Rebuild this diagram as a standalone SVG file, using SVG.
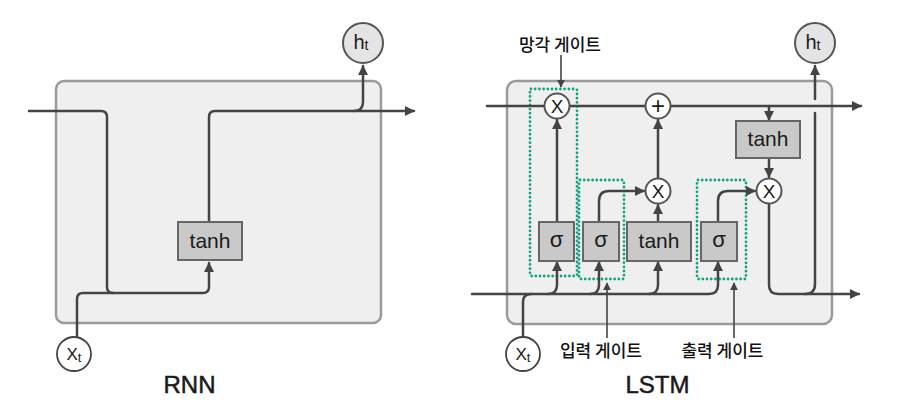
<svg xmlns="http://www.w3.org/2000/svg" width="898" height="408" viewBox="0 0 898 408">
<defs>
<marker id="ah" viewBox="0 0 10 10" refX="9" refY="5" markerWidth="4" markerHeight="4" orient="auto" markerUnits="strokeWidth">
<path d="M0,0 L10,5 L0,10 z" fill="#444"/>
</marker>
<marker id="ahs" viewBox="0 0 10 10" refX="9" refY="5" markerWidth="5" markerHeight="5" orient="auto" markerUnits="strokeWidth">
<path d="M0,0 L10,5 L0,10 z" fill="#444"/>
</marker>
<style>
.cell{fill:#efefef;stroke:#9a9a9a;stroke-width:2.5}
.fn{fill:#c9c9c9;stroke:#666;stroke-width:2}
.op{fill:#fff;stroke:#555;stroke-width:2}
.io{fill:#fff;stroke:#444;stroke-width:1.8}
.ht{fill:#e4e4e4;stroke:#555;stroke-width:2}
.ln{fill:none;stroke:#444;stroke-width:2.5;stroke-linecap:round;stroke-linejoin:round}
.la{fill:none;stroke:#444;stroke-width:1.6}
.gate{fill:none;stroke:#13a383;stroke-width:2.8;stroke-dasharray:0 4.2;stroke-linecap:round}
.t{font-family:"Liberation Sans","Noto Sans",sans-serif;fill:#1a1a1a;text-anchor:middle}
.k{font-family:"Noto Sans CJK KR","Noto Sans",sans-serif;fill:#111;text-anchor:middle;font-size:17px;font-weight:500}
.big{font-size:24px;stroke:#1a1a1a;stroke-width:0.5}
</style>
</defs>

<!-- RNN -->
<g id="rnn-cell"><rect class="cell" x="56" y="81" width="325" height="242" rx="8"/></g>
<g id="rnn-connectors">
<path class="ln" d="M29,111 H101 Q107,111 107,117 V287 Q107,293 113,293"/>
<path class="ln" d="M77,337 V299 Q77,293 83,293 H203 Q209,293 209,287 V263" marker-end="url(#ah)"/>
<path class="ln" d="M209,222 V117 Q209,111 215,111 H414" marker-end="url(#ah)"/>
<path class="ln" d="M354,111 Q363,111 363,102 V66" marker-end="url(#ah)"/>
</g>
<g id="rnn-tanh"><rect class="fn" x="178" y="222" width="64" height="38"/><text class="t" x="210" y="248" font-size="21">tanh</text></g>
<g id="rnn-ht"><circle class="ht" cx="363" cy="43" r="20"/><text class="t" x="361" y="49" font-size="20">h<tspan font-size="14" dy="1">t</tspan></text></g>
<g id="rnn-xt"><circle class="io" cx="74" cy="354" r="17"/><text class="t" x="74" y="360" font-size="17">X<tspan font-size="13" dy="2">t</tspan></text></g>
<text class="t big" x="189.5" y="393">RNN</text>

<!-- LSTM -->
<g id="lstm-cell"><rect class="cell" x="507" y="81" width="325" height="243" rx="9"/></g>
<g id="gates">
<rect id="forget-gate" class="gate" x="530" y="89" width="47" height="187" rx="1"/>
<rect id="input-gate" class="gate" x="579" y="180" width="45" height="99" rx="1"/>
<rect id="output-gate" class="gate" x="697" y="180" width="49" height="99" rx="1"/>
</g>
<g id="lstm-connectors">
<path class="ln" d="M487,106 H861" marker-end="url(#ah)"/>
<path class="ln" d="M769,106 V120" marker-end="url(#ah)"/>
<path class="ln" d="M769,158 V177" marker-end="url(#ah)"/>
<path class="ln" d="M557,222 V120" marker-end="url(#ah)"/>
<path class="ln" d="M599,222 V201 Q599,191 609,191 H644" marker-end="url(#ah)"/>
<path class="ln" d="M658,222 V205" marker-end="url(#ah)"/>
<path class="ln" d="M658,178 V120" marker-end="url(#ah)"/>
<path class="ln" d="M718,222 V201 Q718,191 728,191 H755" marker-end="url(#ah)"/>
<path class="ln" d="M769,204 V285 Q769,294 778,294 H859" marker-end="url(#ah)"/>
<path class="ln" d="M805,294 Q815,294 815,284 V113"/>
<path class="ln" d="M815,99 V66" marker-end="url(#ah)"/>
<path class="ln" d="M472,294 H709 Q718,294 718,285 V262" marker-end="url(#ah)"/>
<path class="ln" d="M548,294 Q557,294 557,285 V262" marker-end="url(#ah)"/>
<path class="ln" d="M590,294 Q599,294 599,285 V262" marker-end="url(#ah)"/>
<path class="ln" d="M649,294 Q658,294 658,285 V262" marker-end="url(#ah)"/>
<path class="ln" d="M523,337 V302 Q523,294 531,294"/>
<path class="la" d="M561,55 V87" marker-end="url(#ahs)"/>
<path class="la" d="M607,338 V283" marker-end="url(#ahs)"/>
<path class="la" d="M734,338 V283" marker-end="url(#ahs)"/>
</g>
<g id="forget-mul"><circle class="op" cx="557" cy="106" r="12.5"/><text class="t" x="557" y="113" font-size="19">X</text></g>
<g id="add"><circle class="op" cx="658" cy="106" r="12.5"/><text class="t" x="658" y="114" font-size="24">+</text></g>
<g id="input-mul"><circle class="op" cx="658" cy="191" r="12.5"/><text class="t" x="658" y="198" font-size="19">X</text></g>
<g id="output-mul"><circle class="op" cx="769" cy="191" r="12.5"/><text class="t" x="769" y="198" font-size="19">X</text></g>
<g id="cell-tanh"><rect class="fn" x="736" y="121" width="64" height="37"/><text class="t" x="768" y="146" font-size="21">tanh</text></g>
<g id="sigma-f"><rect class="fn" x="539" y="222" width="35" height="39"/><text class="t" x="556.5" y="247" font-size="22">σ</text></g>
<g id="sigma-i"><rect class="fn" x="583" y="222" width="36" height="39"/><text class="t" x="601" y="247" font-size="22">σ</text></g>
<g id="tanh-c"><rect class="fn" x="627" y="222" width="64" height="39"/><text class="t" x="659" y="248" font-size="21">tanh</text></g>
<g id="sigma-o"><rect class="fn" x="701" y="222" width="36" height="39"/><text class="t" x="719" y="247" font-size="22">σ</text></g>
<g id="lstm-ht"><circle class="ht" cx="815" cy="43" r="20"/><text class="t" x="813" y="49" font-size="20">h<tspan font-size="14" dy="1">t</tspan></text></g>
<g id="lstm-xt"><circle class="io" cx="523" cy="354" r="17"/><text class="t" x="523" y="360" font-size="17">X<tspan font-size="13" dy="2">t</tspan></text></g>
<text class="k" x="560" y="51">망각 게이트</text>
<text class="k" x="601" y="357">입력 게이트</text>
<text class="k" x="722.5" y="357">출력 게이트</text>
<text class="t big" x="657.5" y="393">LSTM</text>
</svg>
